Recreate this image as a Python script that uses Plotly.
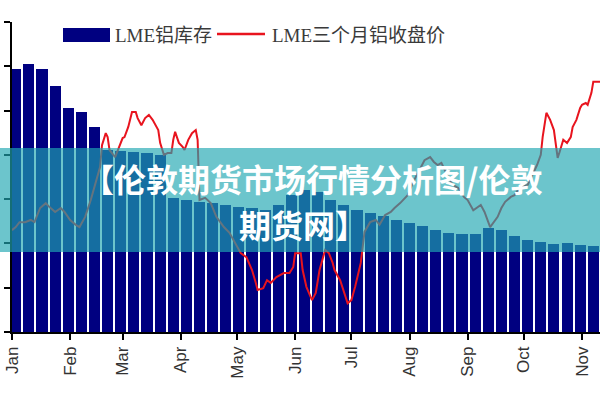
import pandas as pd
import plotly.graph_objects as go

# ---- data ----
YEAR_START = "2018-01-01"
# weekly LME aluminium stocks (kt), weeks centred on Wednesdays from 2018-01-03
stock_weeks = pd.date_range("2018-01-03", periods=45, freq="7D")
stock_kt = [2375, 2420, 2375, 2221, 2023, 1987, 1851, 1643, 1634, 1625,
            1616, 1598, 1210, 1192, 1174, 1165, 1147, 1129, 1120, 1102,
            1147, 1237, 1282, 1264, 1192, 1147, 1102, 1075, 1047, 1011,
            984, 957, 921, 894, 885, 885, 939, 921, 867, 831,
            813, 795, 804, 786, 777]

# LME 3-month aluminium close: day-of-year offsets and prices
price_day = [0, 2, 4, 7, 10, 12, 15, 18, 20, 23, 26, 28, 31, 34, 36, 39, 42, 44, 47, 48,
             50, 51, 52, 55, 57, 59, 60, 62, 64, 66, 67, 69, 71, 73, 75, 76, 78, 79, 81, 83,
             85, 86, 87, 89, 91, 92, 94, 96, 98, 99, 100, 103, 106, 109, 113, 116, 120, 122, 125, 128,
             130, 131, 134, 136, 138, 141, 145, 148, 150, 151, 154, 155, 157, 160, 162, 164, 167, 169, 171, 172,
             175, 178, 179, 181, 183, 186, 187, 188, 191, 194, 196, 199, 202, 204, 207, 211, 214, 218, 220, 223,
             225, 227, 229, 232, 235, 238, 241, 243, 246, 250, 252, 255, 257, 259, 261, 263, 266, 268, 271, 275,
             278, 280, 282, 283, 285, 287, 289, 290, 291, 292, 294, 296, 298, 299, 301, 303, 304, 306, 307, 309,
             310, 312, 314]
price = [1630, 1637, 1648, 1648, 1653, 1648, 1680, 1691, 1682, 1671, 1680, 1671, 1653, 1642, 1637, 1660, 1698, 1727, 1773, 1822,
         1849, 1840, 1811, 1795, 1818, 1838, 1840, 1863, 1897, 1897, 1883, 1867, 1883, 1890, 1879, 1872, 1856, 1827, 1800, 1804,
         1804, 1834, 1852, 1827, 1818, 1811, 1834, 1849, 1856, 1834, 1698, 1703, 1691, 1660, 1637, 1624, 1592, 1578, 1569, 1540,
         1511, 1495, 1499, 1517, 1511, 1524, 1533, 1533, 1547, 1578, 1578, 1540, 1502, 1472, 1488, 1540, 1585, 1578, 1556, 1540,
         1517, 1479, 1465, 1472, 1502, 1556, 1596, 1626, 1648, 1653, 1642, 1664, 1671, 1680, 1691, 1709, 1739, 1770, 1788, 1795,
         1784, 1777, 1782, 1755, 1732, 1725, 1705, 1698, 1675, 1687, 1671, 1637, 1648, 1660, 1680, 1694, 1705, 1709, 1727, 1732,
         1759, 1777, 1800, 1840, 1895, 1879, 1856, 1818, 1793, 1806, 1834, 1827, 1840, 1863, 1879, 1906, 1913, 1917, 1913, 1940,
         1965, 1965, 1965]

legend_names = ["LME铝库存", "LME三个月铝收盘价"]
banner_lines = ["【伦敦期货市场行情分析图/伦敦", "期货网】"]

price_dates = pd.Timestamp(YEAR_START) + pd.to_timedelta(price_day, unit="D")

# ---- figure ----
fig = go.Figure()
fig.add_trace(go.Bar(x=stock_weeks, y=stock_kt, name=legend_names[0],
                     marker=dict(color="#000080", line=dict(width=0)),
                     width=5.9 * 86400000, yaxis="y"))
fig.add_trace(go.Scatter(x=price_dates, y=price, name=legend_names[1], mode="lines",
                         line=dict(color="#e8141e", width=2), yaxis="y2"))

W, H = 600, 400
L, R, T, B = 12, 0, 22, 68
pw, ph = W - L - R, H - T - B


def px(x):
    return (x - L) / pw


def py(y):
    return (H - B - y) / ph


fig.update_layout(
    width=W, height=H,
    margin=dict(l=L, r=R, t=T, b=B),
    paper_bgcolor="white", plot_bgcolor="white",
    showlegend=False,
    bargap=0,
    xaxis=dict(type="date", range=["2018-01-01", "2018-11-10 14:00"],
               tick0="2018-01-01", dtick="M1", tickformat="%b", tickangle=-90,
               ticks="outside", ticklen=6, tickcolor="black", tickwidth=1.5,
               showline=True, linecolor="black", linewidth=1.5,
               showgrid=False, zeroline=False,
               tickfont=dict(family="Liberation Sans, Arial", size=17, color="#333")),
    yaxis=dict(range=[0, 2800], dtick=400, showticklabels=False,
               ticks="outside", ticklen=6, tickcolor="black", tickwidth=1.5,
               showline=True, linecolor="black", linewidth=1.5,
               showgrid=False, zeroline=False),
    yaxis2=dict(range=[1400, 2100], overlaying="y", side="right", visible=False),
)

# custom legend
fig.add_shape(type="rect", xref="paper", yref="paper",
              x0=px(63), x1=px(110), y0=py(42), y1=py(28),
              fillcolor="#000080", line=dict(width=0))
fig.add_shape(type="line", xref="paper", yref="paper",
              x0=px(217), x1=px(265), y0=py(34), y1=py(34),
              line=dict(color="#e8141e", width=2.5))
for xpos, txt in [(113, legend_names[0]), (270, legend_names[1])]:
    fig.add_annotation(xref="paper", yref="paper", x=px(xpos), y=py(35),
                       xanchor="left", yanchor="middle", showarrow=False, text=txt,
                       font=dict(family="Liberation Serif, Noto Sans CJK SC", size=19, color="#3a3a3a"))

# banner overlay
fig.add_shape(type="rect", xref="paper", yref="paper", layer="above",
              x0=px(0), x1=px(600), y0=py(252), y1=py(148),
              fillcolor="rgba(32,167,177,0.66)", line=dict(width=0))
fig.add_annotation(xref="paper", yref="paper", x=px(312), y=py(178),
                   xanchor="center", yanchor="middle", showarrow=False,
                   text="<b>" + banner_lines[0] + "</b>",
                   font=dict(family="Noto Sans CJK SC", size=32, color="white"))
fig.add_annotation(xref="paper", yref="paper", x=px(303), y=py(224),
                   xanchor="center", yanchor="middle", showarrow=False,
                   text="<b>" + banner_lines[1] + "</b>",
                   font=dict(family="Noto Sans CJK SC", size=32, color="white"))

fig.write_html("out.html")
